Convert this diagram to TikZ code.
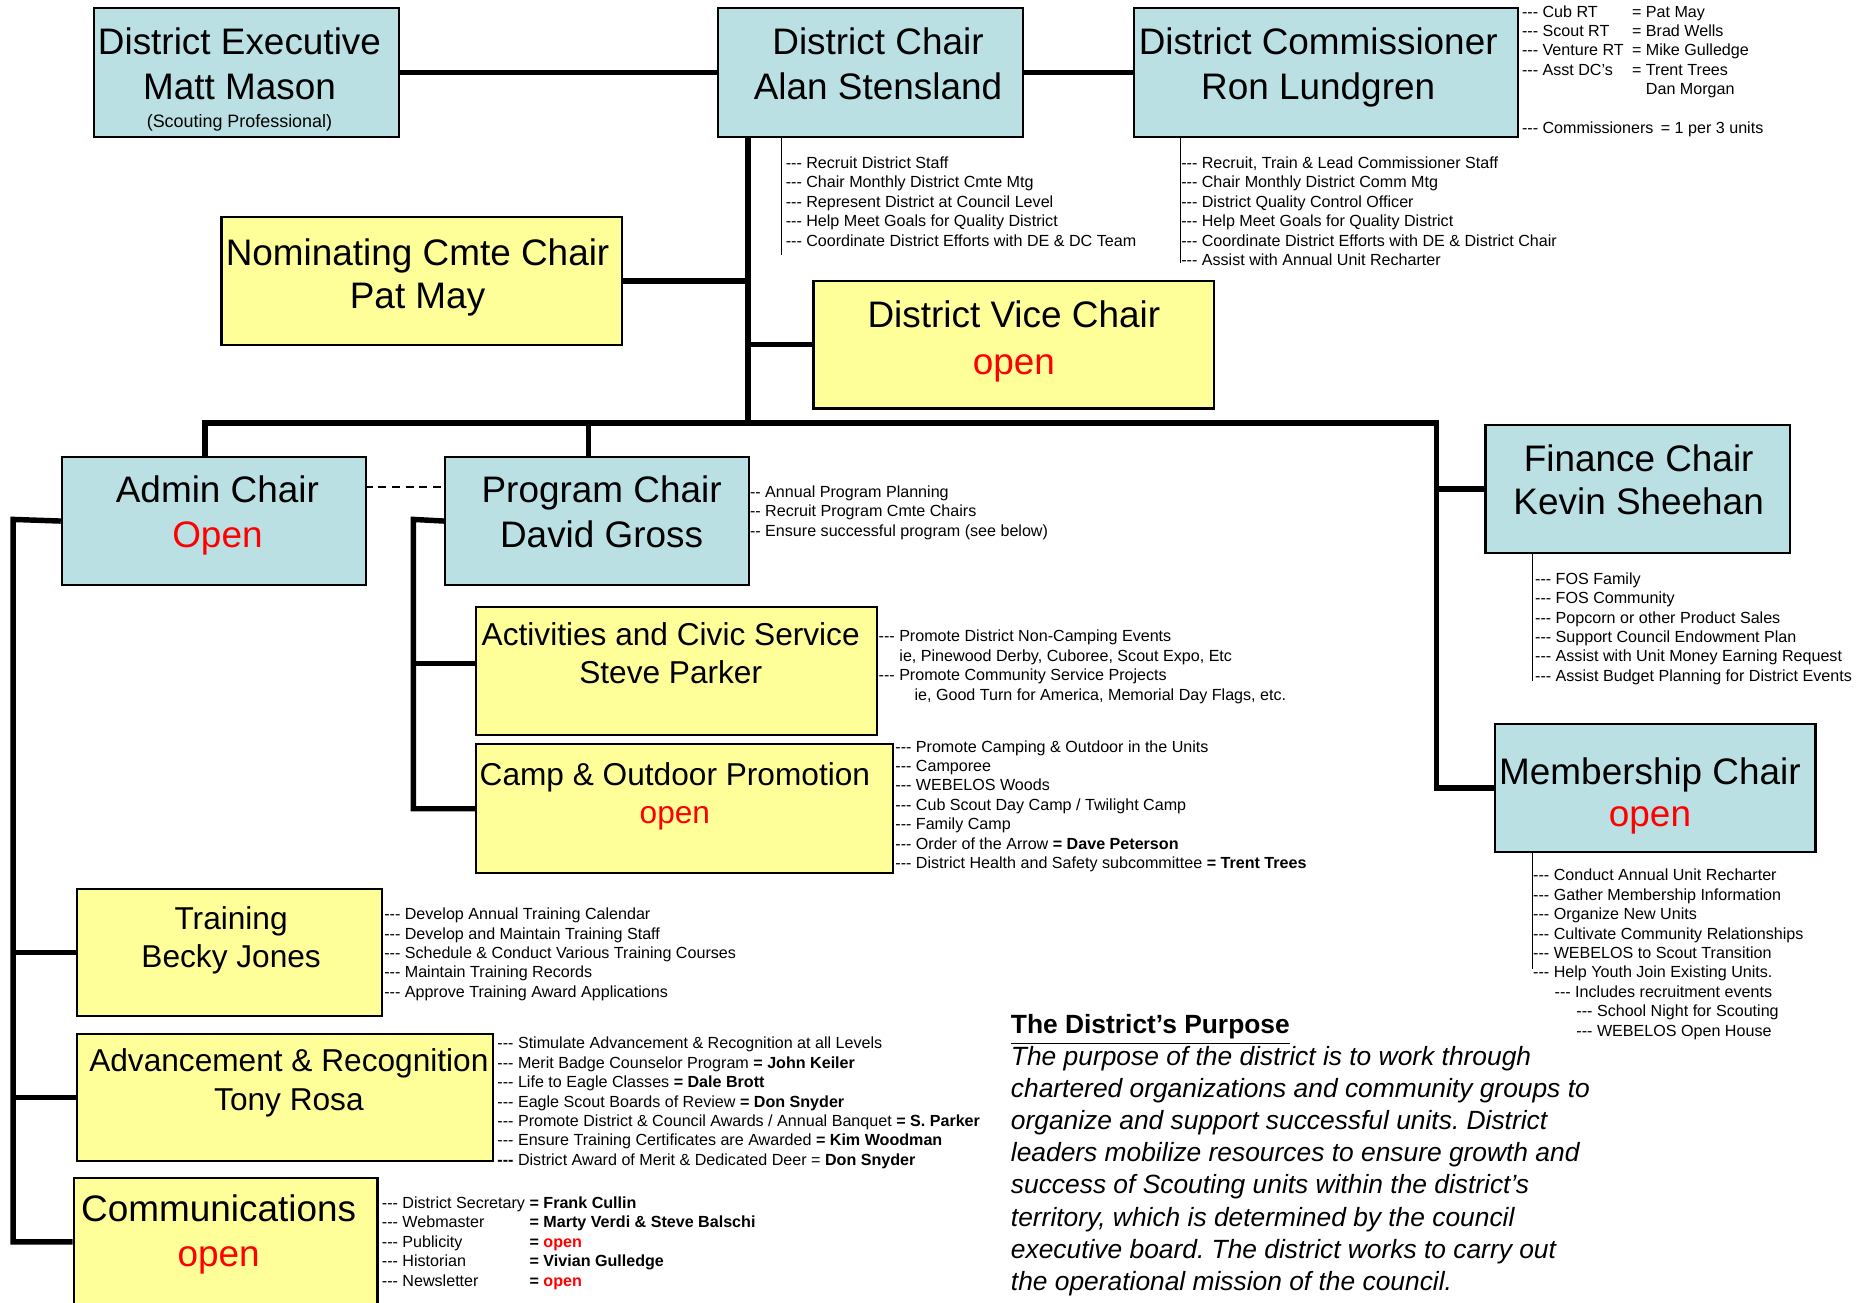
\documentclass[tikz,border=0pt]{standalone}
\usepackage{fontspec}
\setmainfont{Liberation Sans}[Ligatures=TeXOff]
\frenchspacing
\definecolor{boxblue}{RGB}{186,224,227}
\definecolor{boxyellow}{RGB}{255,255,153}
\definecolor{openred}{RGB}{255,0,0}
\newcommand{\dpx}{0.3389pt}
\newcommand{\bigtxt}{\fontsize{10.5}{12.8}\selectfont}
\newcommand{\bigskiptxt}[1]{\fontsize{10.5}{#1}\selectfont}
\newcommand{\midtxt}{\fontsize{9}{10.9}\selectfont}
\newcommand{\smalltxt}{\fontsize{4.58}{5.52}\selectfont}
\newcommand{\subtxt}{\fontsize{5.1}{6}\selectfont}
\newcommand{\purposetxt}{\fontsize{7.5}{9.15}\selectfont}
\newcommand{\vacant}[1]{\textcolor{openred}{#1}}

\begin{document}
\begin{tikzpicture}[x=0.3389pt,y=-0.3389pt,line join=miter]
\tikzstyle{bluebox}=[rectangle,draw,line width=0.6pt,fill=boxblue,anchor=north west,inner sep=0pt]
\tikzstyle{yellowbox}=[bluebox,fill=boxyellow]
\tikzstyle{title}=[anchor=north,align=center,inner sep=0pt,font=\bigtxt]
\tikzstyle{subtitle}=[title,font=\midtxt]
\tikzstyle{duties}=[anchor=north west,align=left,inner sep=0pt,font=\smalltxt]
\tikzstyle{link}=[line width=1.55pt]
\tikzstyle{tick}=[line width=0.45pt]
\tikzset{boxsize/.style 2 args={minimum width=#1*\dpx,minimum height=#2*\dpx}}
\useasboundingbox (0,0) rectangle (1568,1093);
\fill[white] (0,0) rectangle (1568,1093);
\clip (0,0) rectangle (1568,1093);

% top row
\node[bluebox,boxsize={256}{108}] (exec) at (78,6) {};
\node[title] (exectxt) at (201,22.4) {District Executive\\Matt Mason};
\node[title,font=\subtxt] (execsub) at (201,95.6) {(Scouting Professional)};
\node[bluebox,boxsize={256}{108}] (chair) at (602,6) {};
\node[title] (chairtxt) at (737,22.4) {District Chair\\Alan Stensland};
\node[bluebox,boxsize={322}{108}] (comm) at (951,6) {};
\node[title] (commtxt) at (1106.5,22.4) {District Commissioner\\Ron Lundgren};
\draw[link] (exec.east) -- (chair.west);
\draw[link] (chair.east) -- (comm.west);

\node[duties] (commteam) at (1277,4) {\makebox[31.3pt][l]{--- Cub RT}= Pat May\\
  \makebox[31.3pt][l]{--- Scout RT}= Brad Wells\\
  \makebox[31.3pt][l]{--- Venture RT}= Mike Gulledge\\
  \makebox[31.3pt][l]{--- Asst DC’s}= Trent Trees\\
  \makebox[31.3pt][l]{}\phantom{=}\ Dan Morgan\\[5.52pt]
  \makebox[39.5pt][l]{--- Commissioners}= 1 per 3 units};

% duties under chair and commissioner
\coordinate (chairtick) at (656,214);
\draw[tick] (chair.south -| chairtick) -- (chairtick);
\node[duties] (chairduty) at (659,131) {--- Recruit District Staff\\
  --- Chair Monthly District Cmte Mtg\\
  --- Represent District at Council Level\\
  --- Help Meet Goals for Quality District\\
  --- Coordinate District Efforts with DE \& DC Team};
\coordinate (commtick) at (991,221);
\draw[tick] (comm.south -| commtick) -- (commtick);
\node[duties] (commduty) at (991,131) {--- Recruit, Train \& Lead Commissioner Staff\\
  --- Chair Monthly District Comm Mtg\\
  --- District Quality Control Officer\\
  --- Help Meet Goals for Quality District\\
  --- Coordinate District Efforts with DE \& District Chair\\
  --- Assist with Annual Unit Recharter};

% trunk
\node[yellowbox,boxsize={336}{108}] (nom) at (185,181) {};
\node[title,font={\bigskiptxt{12.3}}] (nomtxt) at (350.5,200) {Nominating Cmte Chair\\Pat May};
\node[yellowbox,boxsize={336}{107}] (vice) at (682,235) {};
\node[title,font={\bigskiptxt{13.2}}] (vicetxt) at (851,252) {District Vice Chair\\\vacant{open}};
\coordinate (trunk) at (628,355);
\draw[link] (chair.south -| trunk) -- (trunk);
\draw[link] (nom.east) -- (nom.east -| trunk);
\draw[link] (vice.west -| trunk) -- (vice.west);

% second row
\node[bluebox,boxsize={255}{107}] (admin) at (51,383) {};
\node[title] (admintxt) at (182.5,398.5) {Admin Chair\\\vacant{Open}};
\node[bluebox,boxsize={255}{107}] (prog) at (373,383) {};
\node[title] (progtxt) at (505,398.5) {Program Chair\\David Gross};
\node[bluebox,boxsize={256}{107}] (fin) at (1246,356) {};
\node[title,font={\bigskiptxt{12.2}}] (fintxt) at (1375.5,372.5) {Finance Chair\\Kevin Sheehan};
\node[bluebox,boxsize={269}{107}] (member) at (1254,607) {};
\node[title,font={\bigskiptxt{12}}] (membertxt) at (1385,635.5) {Membership Chair\\\vacant{open}};

\coordinate (barleft) at (172,355);
\coordinate (barright) at (1206,355);
\coordinate (progdrop) at (494,355);
\draw[link] (admin.north -| barleft) |- (barright) |- (member.west);
\draw[link] (progdrop) -- (prog.north -| progdrop);
\draw[link] (barright |- fin.west) -- (fin.west);
\coordinate (dashleft) at (306,409);
\draw[tick,dash pattern=on 2.3pt off 1.6pt] (dashleft) -- (dashleft -| prog.west);

\node[duties] (progduty) at (629,407) {-- Annual Program Planning\\
  -- Recruit Program Cmte Chairs\\
  -- Ensure successful program (see below)};

\coordinate (fintick) at (1286.4,572);
\draw[tick] (fin.south -| fintick) -- (fintick);
\node[duties] (finduty) at (1288,480) {--- FOS Family\\
  --- FOS Community\\
  --- Popcorn or other Product Sales\\
  --- Support Council Endowment Plan\\
  --- Assist with Unit Money Earning Request\\
  --- Assist Budget Planning for District Events};

\coordinate (membertick) at (1286.4,813);
\draw[tick] (member.south -| membertick) -- (membertick);
\node[duties] (memberduty) at (1286.4,729) {--- Conduct Annual Unit Recharter\\
  --- Gather Membership Information\\
  --- Organize New Units\\
  --- Cultivate Community Relationships\\
  --- WEBELOS to Scout Transition\\
  --- Help Youth Join Existing Units.\\
  \hspace*{6.1pt}--- Includes recruitment events\\
  \hspace*{12.3pt}--- School Night for Scouting\\
  \hspace*{12.3pt}--- WEBELOS Open House};

% program committee
\node[yellowbox,boxsize={336}{107}] (act) at (399,509) {};
\node[subtitle] (acttxt) at (563,522) {Activities and Civic Service\\Steve Parker};
\node[yellowbox,boxsize={350}{108}] (camp) at (399,624) {};
\node[subtitle] (camptxt) at (566.5,639.6) {Camp \& Outdoor Promotion\\\vacant{open}};
\coordinate (progspine) at (347,436);
\coordinate (actjoin) at (399,557);
\draw[link] (prog.west) -- (progspine) |- (camp.west);
\draw[link] (progspine |- actjoin) -- (actjoin);

\node[duties] (actduty) at (737,528.5) {--- Promote District Non-Camping Events\\
  \hspace*{5.9pt}ie, Pinewood Derby, Cuboree, Scout Expo, Etc\\
  --- Promote Community Service Projects\\
  \hspace*{10.2pt}ie, Good Turn for America, Memorial Day Flags, etc.};
\node[duties] (campduty) at (751,621) {--- Promote Camping \& Outdoor in the Units\\
  --- Camporee\\
  --- WEBELOS Woods\\
  --- Cub Scout Day Camp / Twilight Camp\\
  --- Family Camp\\
  --- Order of the Arrow \textbf{= Dave Peterson}\\
  --- District Health and Safety subcommittee \textbf{= Trent Trees}};

% admin committee
\node[yellowbox,boxsize={256}{107}] (train) at (64,745) {};
\node[subtitle] (traintxt) at (194,760) {Training\\Becky Jones};
\node[yellowbox,boxsize={349}{107}] (adv) at (64,867) {};
\node[subtitle] (advtxt) at (242.5,880) {Advancement \& Recognition\\Tony Rosa};
\node[yellowbox,boxsize={255}{107}] (comms) at (61,988) {};
\node[title] (commstxt) at (183.5,1002.5) {Communications\\\vacant{open}};
\coordinate (adminspine) at (11,436);
\draw[link] (admin.west) -- (adminspine) |- (comms.west);
\draw[link] (adminspine |- train.west) -- (train.west);
\draw[link] (adminspine |- adv.west) -- (adv.west);

\node[duties] (trainduty) at (322,761.6) {--- Develop Annual Training Calendar\\
  --- Develop and Maintain Training Staff\\
  --- Schedule \& Conduct Various Training Courses\\
  --- Maintain Training Records\\
  --- Approve Training Award Applications};
\node[duties] (advduty) at (417,870) {--- Stimulate Advancement \& Recognition at all Levels\\
  --- Merit Badge Counselor Program \textbf{= John Keiler}\\
  --- Life to Eagle Classes \textbf{= Dale Brott}\\
  --- Eagle Scout Boards of Review \textbf{= Don Snyder}\\
  --- Promote District \& Council Awards / Annual Banquet \textbf{= S. Parker}\\
  --- Ensure Training Certificates are Awarded \textbf{= Kim Woodman}\\
  \textbf{---} District Award of Merit \& Dedicated Deer = \textbf{Don Snyder}};
\node[duties] (commsduty) at (320,1004) {\makebox[42pt][l]{--- District Secretary}\textbf{= Frank Cullin}\\
  \makebox[42pt][l]{--- Webmaster}\textbf{= Marty Verdi \& Steve Balschi}\\
  \makebox[42pt][l]{--- Publicity}\textbf{= \vacant{open}}\\
  \makebox[42pt][l]{--- Historian}\textbf{= Vivian Gulledge}\\
  \makebox[42pt][l]{--- Newsletter}\textbf{= \vacant{open}}};

% purpose
\node[anchor=north west,align=left,inner sep=0pt,font=\purposetxt\itshape] (purpose) at (848,850.5)
  {\textup{\textbf{\underline{The District’s Purpose}}}\\
  The purpose of the district is to work through\\
  chartered organizations and community groups to\\
  organize and support successful units. District\\
  leaders mobilize resources to ensure growth and\\
  success of Scouting units within the district’s\\
  territory, which is determined by the council\\
  executive board. The district works to carry out\\
  the operational mission of the council.};
\end{tikzpicture}
\end{document}
